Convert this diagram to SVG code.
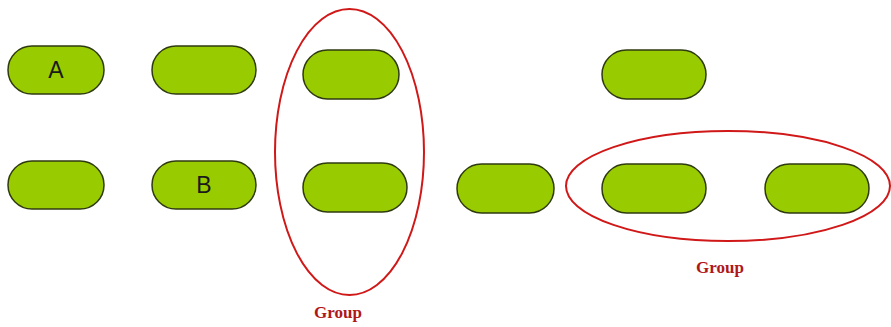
<svg xmlns="http://www.w3.org/2000/svg" width="891" height="327" viewBox="0 0 891 327">
<style>
.n{fill:#99cc00;stroke:#2f3a10;stroke-width:1.5}
.g{fill:none;stroke:#d01818;stroke-width:2}
.t{font-family:"Liberation Sans",Arial,sans-serif;font-size:23px;fill:#1a1a1a;text-anchor:middle}
.gl{font-family:"Liberation Serif","Times New Roman",serif;font-size:17px;font-weight:bold;fill:#b01818;text-anchor:middle}
</style>
<rect width="891" height="327" fill="#fff"/>
<g id="groups">
<ellipse class="g" cx="349.5" cy="152" rx="74.5" ry="143"/>
<ellipse class="g" cx="728" cy="186" rx="162" ry="55"/>
<text class="gl" x="338" y="318">Group</text>
<text class="gl" x="720" y="273">Group</text>
</g>
<g id="nodeA"><rect class="n" x="8" y="46" width="96" height="48" rx="24"/><text class="t" x="56" y="78">A</text></g>
<g id="node2"><rect class="n" x="152" y="46" width="104" height="48" rx="24"/></g>
<g id="node3"><rect class="n" x="303" y="50" width="96" height="49" rx="24.5"/></g>
<g id="node4"><rect class="n" x="602" y="50" width="104" height="49" rx="24.5"/></g>
<g id="node5"><rect class="n" x="8" y="161" width="96" height="48" rx="24"/></g>
<g id="nodeB"><rect class="n" x="152" y="161" width="104" height="48" rx="24"/><text class="t" x="204" y="193">B</text></g>
<g id="node7"><rect class="n" x="303" y="163" width="104" height="49" rx="24.5"/></g>
<g id="node8"><rect class="n" x="457" y="164" width="97" height="49" rx="24.5"/></g>
<g id="node9"><rect class="n" x="602" y="164" width="104" height="49" rx="24.5"/></g>
<g id="node10"><rect class="n" x="765" y="164" width="104" height="49" rx="24.5"/></g>
<g id="connectors"/>
</svg>
